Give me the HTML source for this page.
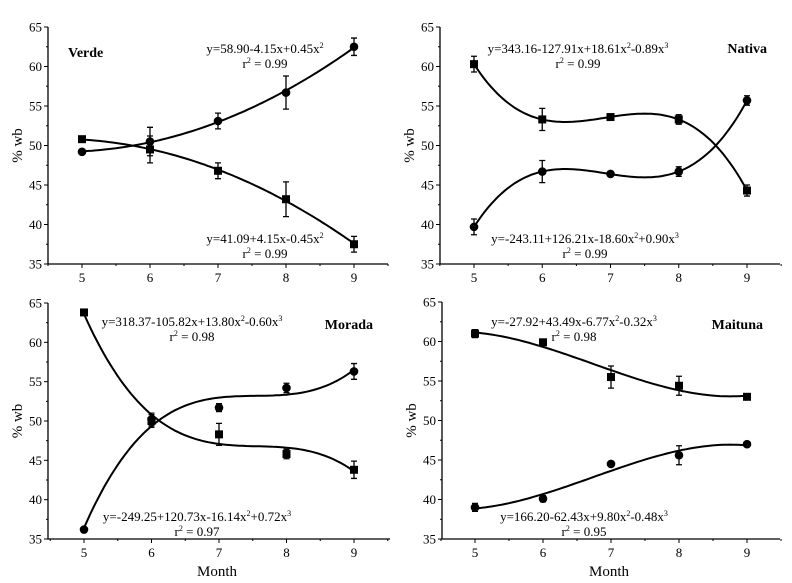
<!DOCTYPE html>
<html><head><meta charset="utf-8"><style>
html,body{margin:0;padding:0;background:#fff;}
svg{display:block;}
svg text{font-family:"Liberation Serif","Times New Roman",serif;}
</style></head><body>
<svg id="chart" width="792" height="583" viewBox="0 0 792 583" xmlns="http://www.w3.org/2000/svg"></svg>
<script>
const months = [5, 6, 7, 8, 9];
const yTicks = [35, 40, 45, 50, 55, 60, 65];
const verdeCircle = [49.2, 50.5, 53.1, 56.7, 62.5];
const verdeCircleErr = [0.3, 1.8, 1.0, 2.1, 1.1];
const verdeSquare = [50.8, 49.5, 46.8, 43.2, 37.5];
const verdeSquareErr = [0.3, 1.7, 1.0, 2.2, 1.0];
const nativaSquare = [60.3, 53.3, 53.6, 53.3, 44.3];
const nativaSquareErr = [1.0, 1.4, 0.3, 0.6, 0.7];
const nativaCircle = [39.7, 46.7, 46.4, 46.7, 55.7];
const nativaCircleErr = [1.0, 1.4, 0.3, 0.6, 0.6];
const moradaSquare = [63.8, 50.0, 48.3, 45.8, 43.8];
const moradaSquareErr = [0.2, 0.8, 1.4, 0.6, 1.1];
const moradaCircle = [36.2, 50.2, 51.7, 54.2, 56.3];
const moradaCircleErr = [0.2, 0.8, 0.5, 0.6, 1.0];
const maitunaSquare = [61.0, 59.9, 55.5, 54.4, 53.0];
const maitunaSquareErr = [0.5, 0.4, 1.4, 1.2, 0.2];
const maitunaCircle = [39.0, 40.1, 44.5, 45.6, 47.0];
const maitunaCircleErr = [0.5, 0.4, 0.3, 1.2, 0.2];

const NS = "http://www.w3.org/2000/svg";
const FF = '"Liberation Serif", "Times New Roman", serif';
const svg = document.getElementById('chart');
function mk(tag, attrs, parent) {
  const e = document.createElementNS(NS, tag);
  for (const k in attrs) e.setAttribute(k, attrs[k]);
  if (tag === 'text') e.setAttribute('font-family', FF);
  (parent || svg).appendChild(e);
  return e;
}
function fit(xs, ys, deg) {
  const n = deg + 1, A = [], b = [];
  for (let i = 0; i < n; i++) {
    A.push([]); b.push(0);
    for (let j = 0; j < n; j++) { let s = 0; xs.forEach(x => s += Math.pow(x - 7, i + j)); A[i].push(s); }
    xs.forEach((x, k) => b[i] += ys[k] * Math.pow(x - 7, i));
  }
  for (let i = 0; i < n; i++) {
    for (let r = i + 1; r < n; r++) {
      const f = A[r][i] / A[i][i];
      for (let c = i; c < n; c++) A[r][c] -= f * A[i][c];
      b[r] -= f * b[i];
    }
  }
  const co = new Array(n).fill(0);
  for (let i = n - 1; i >= 0; i--) {
    let s = b[i];
    for (let c = i + 1; c < n; c++) s -= A[i][c] * co[c];
    co[i] = s / A[i][i];
  }
  return x => co.reduce((s, c, i) => s + c * Math.pow(x - 7, i), 0);
}

function panel(p) {
  const g = mk('g', {});
  
  
  const X = v => p.x5 + (v - 5) * (p.x9 - p.x5) / 4;
  const Y = v => p.yB + (v - 35) * (p.yT - p.yB) / 30;
  const ax = mk('path', {d: `M${p.ax},${p.yT} V${p.yB} H${p.axR}`, stroke: '#000', 'stroke-width': 1.3, fill: 'none'}, g);
  
  
  yTicks.forEach(t => {
    mk('line', {x1: p.ax - 4, x2: p.ax, y1: Y(t), y2: Y(t), stroke: '#000'}, g);
    if (t < 65) mk('line', {x1: p.ax - 2, x2: p.ax, y1: Y(t + 2.5), y2: Y(t + 2.5), stroke: '#000'}, g);
    const tl = mk('text', {x: p.ax - 6, y: Y(t) + 4.5, 'text-anchor': 'end', 'font-size': 13}, g);
    tl.textContent = t;
    
    
  });
  for (let m = 4.5; m <= 9.5; m += 0.5) {
    const major = Number.isInteger(m);
    mk('line', {x1: X(m), x2: X(m), y1: p.yB, y2: p.yB + (major ? 4 : 2), stroke: '#000'}, g);
  }
  months.forEach(m => {
    const tl = mk('text', {x: X(m), y: p.yB + 18, 'text-anchor': 'middle', 'font-size': 13}, g);
    tl.textContent = m;
    
    
  });
  const yl = mk('text', {x: 0, y: 0, transform: `translate(${p.ax - 26},${(p.yT + p.yB) / 2}) rotate(-90)`, 'text-anchor': 'middle', 'font-size': 15}, g);
  yl.textContent = '% wb';
  
  
  if (p.month) {
    const xl = mk('text', {x: (p.ax + p.axR) / 2 - 2, y: 576, 'text-anchor': 'middle', 'font-size': 15}, g);
    xl.textContent = 'Month';
    
    
  }
  p.series.forEach(s => {
    const f = fit(months, s.vals, p.deg);
    let d = '';
    for (let x = 5; x <= 9.0001; x += 0.05) d += (d ? 'L' : 'M') + X(x).toFixed(1) + ',' + Y(f(x)).toFixed(1);
    const c = mk('path', {d, stroke: '#000', 'stroke-width': 2, fill: 'none'}, g);
    
    
    months.forEach((m, i) => {
      const v = s.vals[i], e = s.err[i], cx = X(m), cy = Y(v);
      const eb = mk('path', {d: `M${cx},${Y(v - e)}V${Y(v + e)}M${cx - 3},${Y(v - e)}h6M${cx - 3},${Y(v + e)}h6`, stroke: '#000', 'stroke-width': 1.3, fill: 'none'}, g);
      
      
      let mark;
      if (s.shape === 'sq') mark = mk('rect', {x: cx - 4, y: cy - 4, width: 8, height: 8, fill: '#000'}, g);
      else mark = mk('circle', {cx, cy, r: 4.3, fill: '#000'}, g);
      
      
    });
  });
  const nm = mk('text', {x: p.lx, y: p.ly, 'text-anchor': p.la, 'font-size': 14, 'font-weight': 'bold'}, g);
  nm.textContent = p.title;
  
  
  p.eqs.forEach(q => {
    const t = mk('text', {x: q[0], y: q[1], 'text-anchor': 'middle', 'font-size': 13}, g);
    t.innerHTML = q[2];
    
    
    const r = mk('text', {x: q[0] + q[4], y: q[1] + 15, 'text-anchor': 'middle', 'font-size': 13}, g);
    r.innerHTML = 'r<tspan dy="-5" font-size="8">2</tspan><tspan dy="5"> = ' + q[3] + '</tspan>';
    
    
  });
}
const sup = n => `<tspan dy="-5" font-size="8">${n}</tspan><tspan dy="5">`;
panel({name: 'verde', title: 'Verde', ax: 48, axR: 388, x5: 82, x9: 354, yT: 27, yB: 264, deg: 2, lx: 68, ly: 57, la: 'start', month: false,
  series: [{key: 'verde-circle', vals: verdeCircle, err: verdeCircleErr, shape: 'ci'}, {key: 'verde-square', vals: verdeSquare, err: verdeSquareErr, shape: 'sq'}],
  eqs: [[265, 53, 'y=58.90-4.15x+0.45x' + sup(2) + '</tspan>', '0.99', 0], [265, 243, 'y=41.09+4.15x-0.45x' + sup(2) + '</tspan>', '0.99', 0]]});
panel({name: 'nativa', title: 'Nativa', ax: 440, axR: 780, x5: 474, x9: 747, yT: 27, yB: 264, deg: 3, lx: 767, ly: 53, la: 'end', month: false,
  series: [{key: 'nativa-square', vals: nativaSquare, err: nativaSquareErr, shape: 'sq'}, {key: 'nativa-circle', vals: nativaCircle, err: nativaCircleErr, shape: 'ci'}],
  eqs: [[578, 53, 'y=343.16-127.91x+18.61x' + sup(2) + '-0.89x' + sup(3) + '</tspan></tspan>', '0.99', 0], [585, 243, 'y=-243.11+126.21x-18.60x' + sup(2) + '+0.90x' + sup(3) + '</tspan></tspan>', '0.99', 0]]});
panel({name: 'morada', title: 'Morada', ax: 48, axR: 390, x5: 84, x9: 354, yT: 303, yB: 539, deg: 3, lx: 373, ly: 329, la: 'end', month: true,
  series: [{key: 'morada-square', vals: moradaSquare, err: moradaSquareErr, shape: 'sq'}, {key: 'morada-circle', vals: moradaCircle, err: moradaCircleErr, shape: 'ci'}],
  eqs: [[192, 326, 'y=318.37-105.82x+13.80x' + sup(2) + '-0.60x' + sup(3) + '</tspan></tspan>', '0.98', 0], [197, 521, 'y=-249.25+120.73x-16.14x' + sup(2) + '+0.72x' + sup(3) + '</tspan></tspan>', '0.97', 0]]});
panel({name: 'maituna', title: 'Maituna', ax: 442, axR: 780, x5: 475, x9: 747, yT: 302, yB: 539, deg: 3, lx: 763, ly: 329, la: 'end', month: true,
  series: [{key: 'maituna-square', vals: maitunaSquare, err: maitunaSquareErr, shape: 'sq'}, {key: 'maituna-circle', vals: maitunaCircle, err: maitunaCircleErr, shape: 'ci'}],
  eqs: [[574, 326, 'y=-27.92+43.49x-6.77x' + sup(2) + '-0.32x' + sup(3) + '</tspan></tspan>', '0.98', 0], [584, 521, 'y=166.20-62.43x+9.80x' + sup(2) + '-0.48x' + sup(3) + '</tspan></tspan>', '0.95', 0]]});
</script>
</body></html>
